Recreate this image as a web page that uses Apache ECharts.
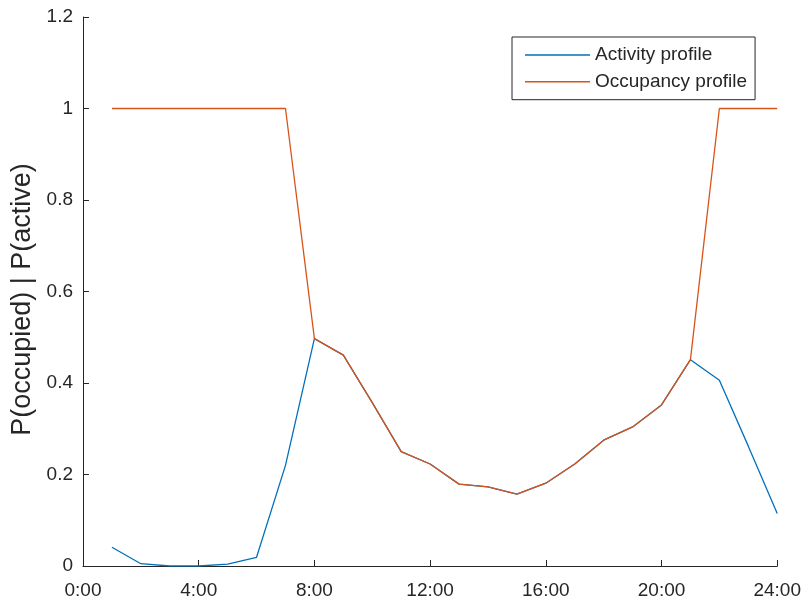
<!DOCTYPE html>
<html>
<head>
<meta charset="utf-8">
<script src="https://cdn.jsdelivr.net/npm/echarts@6/dist/echarts.min.js"></script>
<style>
  html, body { margin: 0; padding: 0; background: #fff; }
  #chart { width: 804px; height: 600px; }
</style>
</head>
<body>
<div id="chart"></div>
<script>
const hours = [1, 2, 3, 4, 5, 6, 7, 8, 9, 10, 11, 12, 13, 14, 15, 16, 17, 18, 19, 20, 21, 22, 23, 24];
const activity = [0.041, 0.005, 0, 0, 0.004, 0.019, 0.22, 0.497, 0.461, 0.357, 0.25, 0.223, 0.179, 0.173, 0.157, 0.181, 0.223, 0.275, 0.304, 0.352, 0.451, 0.406, 0.262, 0.115];
const occupancy = [1, 1, 1, 1, 1, 1, 1, 0.497, 0.461, 0.357, 0.25, 0.223, 0.179, 0.173, 0.157, 0.181, 0.223, 0.275, 0.304, 0.352, 0.451, 1, 1, 1];
const seriesNames = ['Activity profile', 'Occupancy profile'];
const yLabel = 'P(occupied) | P(active)';

const axisColor = '#262626';
const font = 'Liberation Sans, Arial, Helvetica, sans-serif';

const chart = echarts.init(document.getElementById('chart'), null, { renderer: 'canvas' });
chart.setOption({
  animation: false,
  backgroundColor: '#ffffff',
  grid: { left: 83, right: 26, top: 17, bottom: 34, containLabel: false },
  legend: {
    left: 512,
    top: 37,
    orient: 'vertical',
    data: seriesNames,
    icon: 'rect',
    itemWidth: 65,
    itemHeight: 1.4,
    itemGap: 6.7,
    padding: [8, 8, 8, 13],
    borderColor: axisColor,
    borderWidth: 1,
    backgroundColor: '#ffffff',
    borderRadius: 0,
    textStyle: { fontFamily: font, fontSize: 19, color: axisColor, lineHeight: 20 }
  },
  xAxis: {
    type: 'value',
    min: 0, max: 24, interval: 4,
    axisLine: { show: true, lineStyle: { color: axisColor, width: 1 } },
    axisTick: { show: true, inside: true, length: 6, lineStyle: { color: axisColor } },
    splitLine: { show: false },
    axisLabel: { fontFamily: font, fontSize: 19, color: axisColor, margin: 15,
      formatter: v => v + ':00' }
  },
  yAxis: {
    type: 'value',
    min: 0, max: 1.2, interval: 0.2,
    name: yLabel,
    nameLocation: 'middle',
    nameRotate: 90,
    nameGap: 47,
    nameTextStyle: { fontFamily: font, fontSize: 27, color: axisColor, padding: [0, 16, 0, 0] },
    axisLine: { show: true, lineStyle: { color: axisColor, width: 1 } },
    axisTick: { show: true, inside: true, length: 6, lineStyle: { color: axisColor } },
    splitLine: { show: false },
    axisLabel: { fontFamily: font, fontSize: 19, color: axisColor, margin: 10, padding: [3, 0, 0, 0] }
  },
  series: [
    {
      name: seriesNames[0],
      type: 'line',
      symbol: 'none',
      data: hours.map((h, i) => [h, activity[i]]),
      lineStyle: { color: '#0072BD', width: 1.3 },
      itemStyle: { color: '#0072BD' },
      z: 2
    },
    {
      name: seriesNames[1],
      type: 'line',
      symbol: 'none',
      data: hours.map((h, i) => [h, occupancy[i]]),
      lineStyle: { color: '#D95319', width: 1.3 },
      itemStyle: { color: '#D95319' },
      z: 3
    }
  ]
});
</script>
</body>
</html>
